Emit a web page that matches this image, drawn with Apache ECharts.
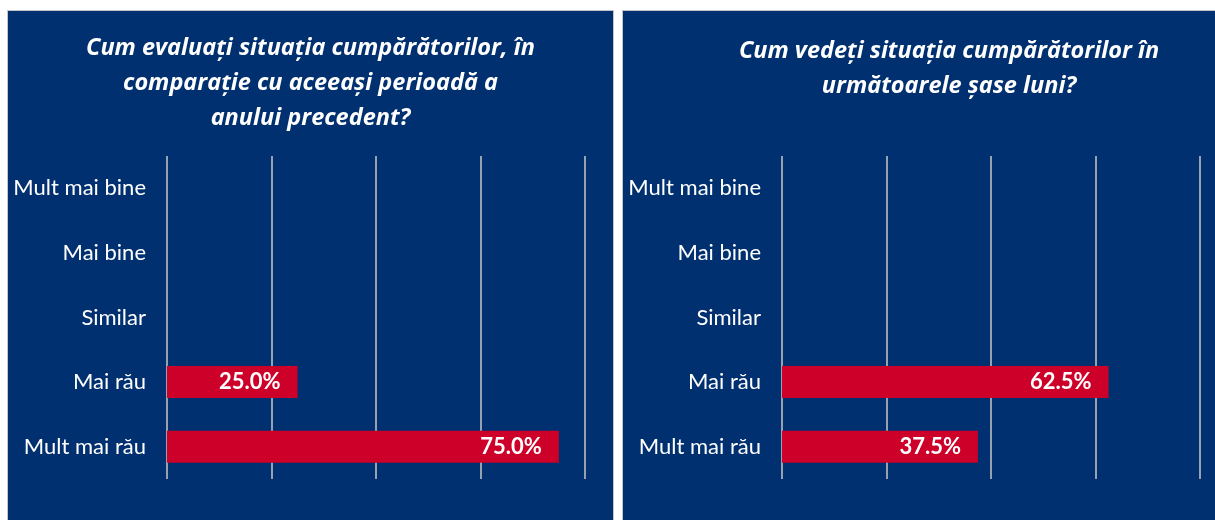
<!DOCTYPE html>
<html>
<head>
<meta charset="utf-8">
<script src="https://cdn.jsdelivr.net/npm/echarts@6/dist/echarts.min.js"></script>
<style>
  html, body { margin: 0; padding: 0; background: #fff; width: 1215px; height: 520px; overflow: hidden; }
  .panel { position: absolute; top: 10px; height: 520px; background: #00306f; border: 1px solid #c4c4c4; box-sizing: border-box; }
  #left { left: 7px; width: 607px; }
  #right { left: 622px; width: 654px; }
</style>
</head>
<body>
<div class="panel" id="left"></div>
<div class="panel" id="right"></div>
<script>
const categories = ['Mult mai bine', 'Mai bine', 'Similar', 'Mai rău', 'Mult mai rău']
const leftTitle = 'Cum evaluați situația cumpărătorilor, în\ncomparație cu aceeași perioadă a\nanului precedent?'
const leftValues = [0, 0, 0, 25.0, 75.0]
const rightTitle = 'Cum vedeți situația cumpărătorilor în\nurmătoarele șase luni?'
const rightValues = [0, 0, 0, 62.5, 37.5]

function buildOption(title, titleTop, values) {
  return {
    title: {
      text: title,
      left: 'center',
      top: titleTop,
      padding: 0,
      textStyle: {
        color: '#fff',
        fontFamily: 'Open Sans',
        fontStyle: 'italic',
        fontWeight: 'bold',
        fontSize: 23.5,
        lineHeight: 35,
        align: 'center'
      }
    },
    grid: {
      left: 159,
      top: 145,
      width: 418,
      height: 323,
      containLabel: false
    },
    xAxis: {
      type: 'value',
      min: 0,
      max: 80,
      interval: 20,
      axisLabel: { show: false },
      axisLine: { show: false },
      axisTick: { show: false },
      splitLine: { lineStyle: { color: '#c8c8c8', width: 1.5 } }
    },
    yAxis: {
      type: 'category',
      inverse: true,
      data: categories,
      axisLine: { show: false },
      axisTick: { show: false },
      axisLabel: {
        color: '#fff',
        fontFamily: 'Lato',
        fontSize: 22,
        margin: 21
      }
    },
    series: [{
      type: 'bar',
      data: values,
      barWidth: 32,
      itemStyle: { color: '#cc0029' },
      label: {
        show: true,
        position: 'insideRight',
        distance: 17,
        color: '#fff',
        fontFamily: 'Lato',
        fontWeight: 'bold',
        fontSize: 22,
        formatter: p => p.value ? p.value.toFixed(1) + '%' : ''
      },
      silent: true
    }],
    animation: false
  }
}

const leftChart = echarts.init(document.getElementById('left'))
leftChart.setOption(buildOption(leftTitle, 20, leftValues))
const rightChart = echarts.init(document.getElementById('right'))
rightChart.setOption(buildOption(rightTitle, 23, rightValues))
</script>
</body>
</html>
